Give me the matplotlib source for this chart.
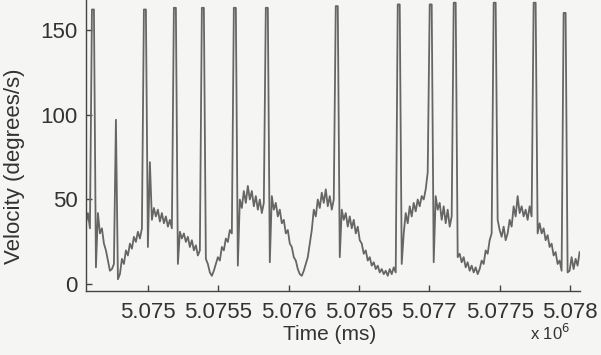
#!/usr/bin/python

import numpy as np
import matplotlib
matplotlib.use('Agg')
import matplotlib.pyplot as plt

# eye velocity trace (one sample every dt ms)
t_start = 5074560.0   # ms
dt = 14.2             # ms
velocity = [36, 42, 33, 162, 162, 10, 42, 30, 33, 24,
            20, 14, 8, 9, 12, 97, 3, 6, 15, 12,
            20, 17, 24, 21, 28, 25, 31, 27, 33, 162,
            162, 22, 72, 38, 45, 40, 44, 37, 42, 36,
            40, 34, 38, 33, 163, 163, 12, 31, 27, 30,
            25, 28, 22, 26, 20, 23, 17, 20, 163, 163,
            15, 12, 7, 5, 8, 12, 16, 14, 22, 20,
            27, 25, 32, 30, 163, 163, 11, 50, 45, 55,
            48, 58, 50, 55, 46, 52, 44, 50, 42, 48,
            163, 163, 13, 52, 44, 48, 40, 44, 36, 38,
            30, 32, 24, 22, 16, 14, 9, 6, 5, 8,
            12, 16, 24, 32, 44, 40, 50, 45, 54, 48,
            56, 46, 52, 44, 50, 164, 164, 16, 44, 38,
            42, 34, 40, 33, 38, 30, 34, 26, 24, 18,
            20, 14, 16, 11, 13, 9, 11, 7, 9, 6,
            8, 5, 9, 6, 10, 7, 165, 165, 12, 30,
            42, 36, 46, 40, 48, 43, 50, 46, 52, 50,
            56, 66, 165, 165, 13, 52, 44, 48, 38, 46,
            36, 44, 34, 40, 166, 166, 16, 18, 13, 16,
            10, 13, 8, 11, 7, 10, 6, 9, 14, 12,
            20, 18, 26, 30, 166, 166, 38, 32, 28, 34,
            26, 30, 38, 34, 46, 40, 52, 42, 46, 40,
            44, 38, 46, 40, 166, 166, 30, 36, 30, 33,
            26, 29, 22, 24, 17, 19, 12, 14, 8, 160,
            160, 7, 8, 16, 9, 15, 11, 19]

xticks = [5.075e6, 5.0755e6, 5.076e6, 5.0765e6, 5.077e6, 5.0775e6, 5.078e6]
xticklabels = ['5.075', '5.0755', '5.076', '5.0765', '5.077', '5.0775', '5.078']
yticks = [0, 50, 100, 150]

time = t_start + dt * np.arange(len(velocity))

plt.rcParams['font.family'] = ['Liberation Sans', 'DejaVu Sans']
txt = '#333333'
bg = '#f5f5f3'

fig = plt.figure(figsize=(6.01, 3.55), dpi=100, facecolor=bg)
ax = fig.add_axes([0.143, 0.18, 0.822, 0.82])
ax.set_facecolor(bg)

ax.plot(time, velocity, color='#666666', lw=1.3)

ax.set_xlim(5074560, 5078070)
ax.set_ylim(-4, 167.6)

ax.set_xticks(xticks)
ax.set_xticklabels(xticklabels)
ax.set_yticks(yticks)

# matlab look: inward ticks, no box
for s in ['top', 'right']:
    ax.spines[s].set_visible(False)
for s in ['left', 'bottom']:
    ax.spines[s].set_color('#444444')
    ax.spines[s].set_linewidth(1.0)
ax.tick_params(direction='in', length=4, width=1, color='#444444',
               labelsize=16, labelcolor=txt)
ax.tick_params(axis='x', pad=8)
ax.tick_params(axis='y', pad=6)

ax.set_xlabel('Time (ms)', fontsize=15, color=txt)
ax.set_ylabel('Velocity (degrees/s)', fontsize=16, color=txt)
ax.xaxis.set_label_coords(0.494, -0.118)
ax.yaxis.set_label_coords(-0.123, 0.43)

fig.text(0.882, 0.042, r'x 10$^6$', fontsize=12, color=txt)

fig.savefig('out.png', dpi=100, facecolor=bg)
